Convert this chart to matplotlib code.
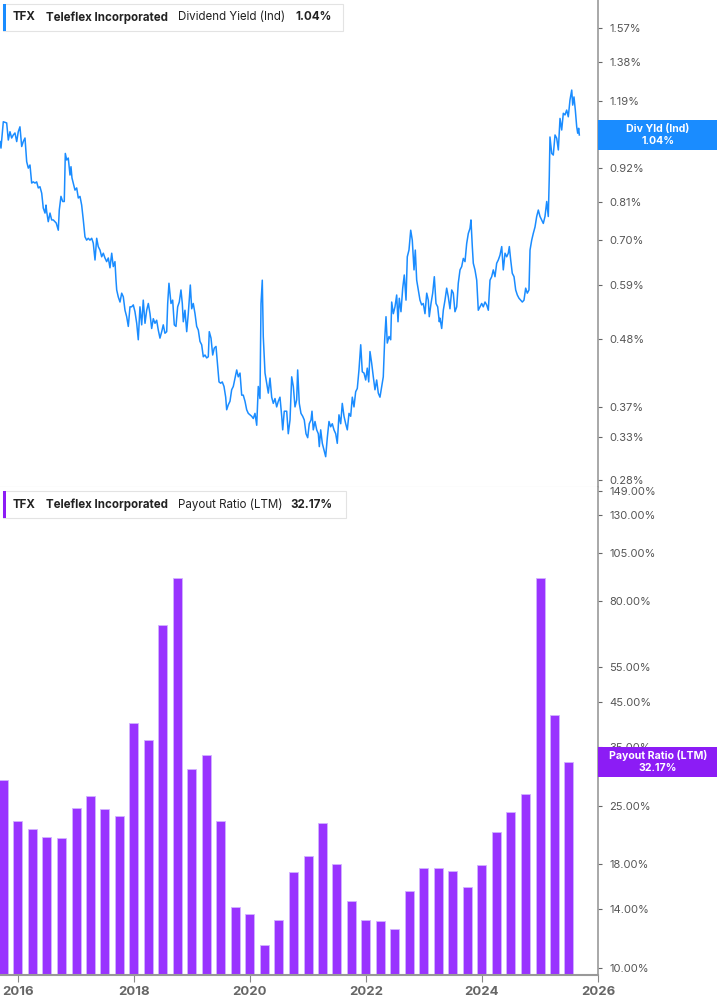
import numpy as np
import pandas as pd
import matplotlib
matplotlib.use("Agg")
import matplotlib.pyplot as plt
from matplotlib.patches import Rectangle

plt.rcParams['font.family'] = ['Inter', 'DejaVu Sans']

# dividend yield (Ind), %, dates as decimal years
yld_t = [2015.690, 2015.707, 2015.747, 2015.805, 2015.833, 2015.862, 2015.891, 2015.919, 2015.948, 2015.978,
         2016.005, 2016.034, 2016.064, 2016.091, 2016.121, 2016.150, 2016.178, 2016.207, 2016.236, 2016.264,
         2016.293, 2016.322, 2016.350, 2016.379, 2016.409, 2016.436, 2016.466, 2016.483, 2016.495, 2016.522,
         2016.552, 2016.581, 2016.609, 2016.638, 2016.660, 2016.695, 2016.712, 2016.741, 2016.771, 2016.798,
         2016.816, 2016.840, 2016.867, 2016.897, 2016.914, 2016.931, 2016.953, 2016.983, 2017.012, 2017.040,
         2017.069, 2017.098, 2017.126, 2017.155, 2017.184, 2017.212, 2017.241, 2017.271, 2017.298, 2017.328,
         2017.357, 2017.384, 2017.414, 2017.443, 2017.471, 2017.500, 2017.529, 2017.557, 2017.586, 2017.616,
         2017.643, 2017.672, 2017.690, 2017.702, 2017.729, 2017.759, 2017.788, 2017.816, 2017.845, 2017.874,
         2017.902, 2017.931, 2017.960, 2017.988, 2018.017, 2018.047, 2018.074, 2018.103, 2018.133, 2018.160,
         2018.190, 2018.219, 2018.247, 2018.276, 2018.305, 2018.333, 2018.362, 2018.391, 2018.419, 2018.448,
         2018.478, 2018.505, 2018.534, 2018.564, 2018.581, 2018.603, 2018.638, 2018.667, 2018.695, 2018.724,
         2018.753, 2018.781, 2018.810, 2018.833, 2018.850, 2018.879, 2018.909, 2018.936, 2018.971, 2018.995,
         2019.022, 2019.052, 2019.081, 2019.109, 2019.138, 2019.167, 2019.195, 2019.224, 2019.253, 2019.281,
         2019.298, 2019.328, 2019.357, 2019.384, 2019.414, 2019.443, 2019.466, 2019.495, 2019.522, 2019.552,
         2019.581, 2019.598, 2019.626, 2019.655, 2019.684, 2019.712, 2019.741, 2019.771, 2019.798, 2019.828,
         2019.857, 2019.884, 2019.914, 2019.943, 2019.971, 2020.000, 2020.029, 2020.057, 2020.086, 2020.116,
         2020.143, 2020.172, 2020.190, 2020.212, 2020.229, 2020.259, 2020.288, 2020.316, 2020.345, 2020.374,
         2020.402, 2020.431, 2020.460, 2020.488, 2020.517, 2020.547, 2020.564, 2020.591, 2020.633, 2020.660,
         2020.690, 2020.719, 2020.747, 2020.776, 2020.805, 2020.822, 2020.850, 2020.879, 2020.909, 2020.936,
         2020.966, 2020.995, 2021.022, 2021.052, 2021.069, 2021.091, 2021.121, 2021.150, 2021.178, 2021.195,
         2021.219, 2021.247, 2021.276, 2021.305, 2021.333, 2021.362, 2021.391, 2021.419, 2021.448, 2021.478,
         2021.505, 2021.534, 2021.564, 2021.591, 2021.621, 2021.650, 2021.678, 2021.707, 2021.736, 2021.764,
         2021.793, 2021.822, 2021.850, 2021.879, 2021.909, 2021.936, 2021.966, 2021.995, 2022.022, 2022.047,
         2022.069, 2022.098, 2022.126, 2022.155, 2022.184, 2022.212, 2022.241, 2022.271, 2022.298, 2022.322,
         2022.345, 2022.367, 2022.397, 2022.426, 2022.443, 2022.471, 2022.500, 2022.529, 2022.552, 2022.574,
         2022.603, 2022.633, 2022.660, 2022.690, 2022.712, 2022.741, 2022.771, 2022.798, 2022.828, 2022.850,
         2022.874, 2022.902, 2022.931, 2022.960, 2022.988, 2023.017, 2023.047, 2023.074, 2023.091, 2023.121,
         2023.150, 2023.178, 2023.207, 2023.236, 2023.264, 2023.276, 2023.305, 2023.333, 2023.362, 2023.391,
         2023.419, 2023.448, 2023.478, 2023.505, 2023.534, 2023.564, 2023.591, 2023.621, 2023.650, 2023.678,
         2023.707, 2023.736, 2023.764, 2023.793, 2023.810, 2023.833, 2023.850, 2023.879, 2023.909, 2023.936,
         2023.966, 2023.995, 2024.022, 2024.052, 2024.081, 2024.109, 2024.138, 2024.167, 2024.195, 2024.224,
         2024.253, 2024.281, 2024.310, 2024.340, 2024.367, 2024.397, 2024.426, 2024.453, 2024.471, 2024.495,
         2024.522, 2024.552, 2024.581, 2024.609, 2024.638, 2024.667, 2024.695, 2024.724, 2024.753, 2024.781,
         2024.810, 2024.828, 2024.857, 2024.884, 2024.914, 2024.943, 2024.971, 2025.000, 2025.029, 2025.057,
         2025.086, 2025.116, 2025.143, 2025.160, 2025.172, 2025.202, 2025.229, 2025.259, 2025.288, 2025.316,
         2025.345, 2025.374, 2025.402, 2025.431, 2025.460, 2025.488, 2025.517, 2025.547, 2025.564, 2025.586,
         2025.609, 2025.633, 2025.650, 2025.667, 2025.678]
yld_v = [1.018, 0.993, 1.098, 1.093, 1.024, 1.057, 1.032, 1.044, 1.052, 1.018,
         1.057, 1.077, 0.999, 1.018, 1.032, 0.943, 0.920, 0.931, 0.869, 0.873,
         0.869, 0.873, 0.853, 0.857, 0.836, 0.790, 0.775, 0.799, 0.779, 0.750,
         0.775, 0.755, 0.755, 0.750, 0.746, 0.726, 0.784, 0.826, 0.810, 0.810,
         0.973, 0.949, 0.956, 0.896, 0.925, 0.886, 0.869, 0.846, 0.853, 0.821,
         0.826, 0.799, 0.755, 0.708, 0.699, 0.704, 0.699, 0.704, 0.691, 0.648,
         0.704, 0.682, 0.673, 0.656, 0.665, 0.653, 0.644, 0.653, 0.629, 0.665,
         0.632, 0.644, 0.600, 0.578, 0.563, 0.552, 0.571, 0.563, 0.535, 0.522,
         0.503, 0.542, 0.542, 0.546, 0.532, 0.509, 0.478, 0.542, 0.506, 0.556,
         0.509, 0.535, 0.549, 0.528, 0.499, 0.518, 0.509, 0.515, 0.496, 0.481,
         0.493, 0.506, 0.490, 0.493, 0.549, 0.593, 0.549, 0.556, 0.506, 0.503,
         0.542, 0.552, 0.578, 0.549, 0.512, 0.535, 0.493, 0.528, 0.589, 0.538,
         0.549, 0.528, 0.503, 0.496, 0.475, 0.469, 0.448, 0.451, 0.446, 0.448,
         0.493, 0.481, 0.451, 0.463, 0.466, 0.431, 0.407, 0.405, 0.407, 0.400,
         0.384, 0.366, 0.373, 0.378, 0.395, 0.400, 0.413, 0.426, 0.415, 0.421,
         0.387, 0.387, 0.378, 0.366, 0.361, 0.359, 0.357, 0.354, 0.361, 0.345,
         0.400, 0.382, 0.549, 0.600, 0.484, 0.421, 0.405, 0.390, 0.413, 0.384,
         0.375, 0.382, 0.370, 0.378, 0.384, 0.357, 0.339, 0.364, 0.364, 0.334,
         0.352, 0.415, 0.400, 0.370, 0.380, 0.426, 0.375, 0.361, 0.357, 0.352,
         0.334, 0.329, 0.347, 0.352, 0.364, 0.339, 0.350, 0.339, 0.334, 0.318,
         0.339, 0.322, 0.314, 0.306, 0.329, 0.350, 0.343, 0.347, 0.339, 0.334,
         0.322, 0.359, 0.347, 0.375, 0.357, 0.347, 0.339, 0.361, 0.357, 0.384,
         0.370, 0.392, 0.397, 0.426, 0.469, 0.423, 0.421, 0.410, 0.429, 0.407,
         0.457, 0.437, 0.415, 0.395, 0.410, 0.390, 0.384, 0.400, 0.415, 0.478,
         0.522, 0.472, 0.484, 0.478, 0.552, 0.528, 0.542, 0.567, 0.512, 0.560,
         0.532, 0.582, 0.612, 0.556, 0.656, 0.673, 0.726, 0.699, 0.624, 0.673,
         0.600, 0.578, 0.556, 0.546, 0.549, 0.528, 0.571, 0.556, 0.522, 0.549,
         0.571, 0.608, 0.549, 0.542, 0.512, 0.519, 0.499, 0.535, 0.556, 0.582,
         0.563, 0.538, 0.578, 0.571, 0.532, 0.542, 0.593, 0.624, 0.632, 0.652,
         0.644, 0.690, 0.717, 0.731, 0.755, 0.682, 0.640, 0.624, 0.600, 0.535,
         0.542, 0.549, 0.542, 0.552, 0.546, 0.535, 0.600, 0.608, 0.624, 0.608,
         0.640, 0.648, 0.660, 0.682, 0.624, 0.665, 0.656, 0.665, 0.682, 0.648,
         0.616, 0.608, 0.578, 0.567, 0.560, 0.556, 0.552, 0.556, 0.582, 0.571,
         0.578, 0.673, 0.699, 0.717, 0.735, 0.765, 0.784, 0.765, 0.755, 0.745,
         0.765, 0.810, 0.765, 0.890, 1.036, 0.973, 0.967, 1.044, 1.031, 0.986,
         1.112, 1.064, 1.134, 1.127, 1.148, 1.119, 1.193, 1.239, 1.170, 1.207,
         1.148, 1.077, 1.051, 1.071, 1.044]

# payout ratio (LTM), %, quarterly from Q3 2015 to Q2 2025
payout_q = pd.date_range('2015-09-30', periods=40, freq='QE')
payout_v = [29.0, 23.0, 22.0, 21.0, 20.9, 24.8, 26.5, 24.6, 23.7, 40.0,
            36.4, 69.7, 91.2, 30.9, 33.5, 23.0, 14.1, 13.6, 11.4, 13.1,
            17.2, 18.9, 22.7, 18.0, 14.6, 13.1, 13.05, 12.5, 15.5, 17.6,
            17.6, 17.3, 15.8, 17.9, 21.6, 24.2, 26.8, 91.0, 41.9, 32.17]

yld_ticks = [0.28, 0.33, 0.37, 0.48, 0.59, 0.70, 0.81, 0.92, 1.00, 1.19, 1.38, 1.57]
pay_ticks = [10, 14, 18, 25, 35, 45, 55, 80, 105, 130, 149]
year_ticks = [2016, 2018, 2020, 2022, 2024, 2026]

blue = '#1a8cff'
purple = '#9933ff'
box_purple = '#8c1cf5'

W, H = 717, 1005


def rect(x0, y0, x1, y1):
    return [x0 / W, 1 - y1 / H, (x1 - x0) / W, (y1 - y0) / H]


fig = plt.figure(figsize=(W / 100, H / 100), dpi=100)
ax1 = fig.add_axes(rect(0, 0, 598, 487))
ax2 = fig.add_axes(rect(0, 487, 598, 975))

pay_x = payout_q.year + (payout_q.dayofyear) / 365.25
ax1.plot(yld_t, yld_v, color=blue, lw=1.1)
ax2.bar(pay_x, payout_v, width=0.155, color=purple, edgecolor='#d2b3ff', linewidth=0.6)

ax1.set_yscale('log')
ax2.set_yscale('log')
ax1.set_ylim(0.2726, 1.747)
ax2.set_ylim(9.61, 152.4)

for ax, ticks in ((ax1, yld_ticks), (ax2, pay_ticks)):
    ax.set_xlim(2015.69, 2026.0)
    ax.yaxis.tick_right()
    ax.set_yticks(ticks)
    ax.set_yticklabels([f'{t:.2f}%' for t in ticks])
    ax.yaxis.set_minor_locator(matplotlib.ticker.NullLocator())
    ax.tick_params(axis='y', length=3, width=0.8, color='#666666', labelcolor='#555555',
                   labelsize=8, pad=5)
    for s in ('left', 'top'):
        ax.spines[s].set_visible(False)
    ax.spines['right'].set_color('#999999')
    ax.spines['right'].set_linewidth(1.2)

ax1.set_xticks([])
ax1.spines['bottom'].set_color('#d0d0d0')
ax1.spines['bottom'].set_linewidth(0.8)
ax2.spines['bottom'].set_color('#999999')
ax2.spines['bottom'].set_linewidth(1.5)
ax2.set_xticks(year_ticks)
ax2.set_xticklabels([str(y) for y in year_ticks])
ax2.tick_params(axis='x', length=5, width=0.8, color='#888888', labelcolor='#666666',
                labelsize=9.5, pad=3)
for lbl in ax2.get_xticklabels():
    lbl.set_fontweight('bold')


def header(y0, y1, right, color, metric, value, value_x):
    fig.patches.append(Rectangle((3 / W, 1 - y1 / H), (right - 3) / W, (y1 - y0) / H,
                                 transform=fig.transFigure, facecolor='white',
                                 edgecolor='#e3e3e3', lw=0.8, zorder=5))
    fig.patches.append(Rectangle((3 / W, 1 - y1 / H), 3 / W, (y1 - y0) / H,
                                 transform=fig.transFigure, facecolor=color,
                                 edgecolor='none', zorder=6))
    yc = 1 - (y0 + y1) / 2 / H
    kw = dict(va='center', ha='left', fontsize=8.3, color='#222222', zorder=7)
    fig.text(13 / W, yc, 'TFX', fontweight='bold', **kw)
    fig.text(46 / W, yc, 'Teleflex Incorporated', fontweight='bold', **kw)
    fig.text(178 / W, yc, metric, **kw)
    fig.text(value_x / W, yc, value, fontweight='bold', **kw)


header(4, 31, 343, blue, 'Dividend Yield (Ind)', '1.04%', 295)
header(491, 518, 346, box_purple, 'Payout Ratio (LTM)', '32.17%', 290)


def last_box(ax, value, color, name, label):
    yd = ax.transData.transform((2020, value))[1]
    fig.patches.append(Rectangle((598 / W, (yd - 15) / H), (W - 598) / W, 30 / H,
                                 transform=fig.transFigure, facecolor=color,
                                 edgecolor='none', zorder=5))
    fig.text(658 / W, (yd + 6) / H, name, ha='center', va='center', color='white',
             fontsize=7.6, fontweight='bold', zorder=7)
    fig.text(658 / W, (yd - 6) / H, label, ha='center', va='center', color='white',
             fontsize=7.6, fontweight='bold', zorder=7)


last_box(ax1, yld_v[-1], blue, 'Div Yld (Ind)', '1.04%')
last_box(ax2, payout_v[-1], box_purple, 'Payout Ratio (LTM)', '32.17%')

fig.savefig('out.png', dpi=100)
